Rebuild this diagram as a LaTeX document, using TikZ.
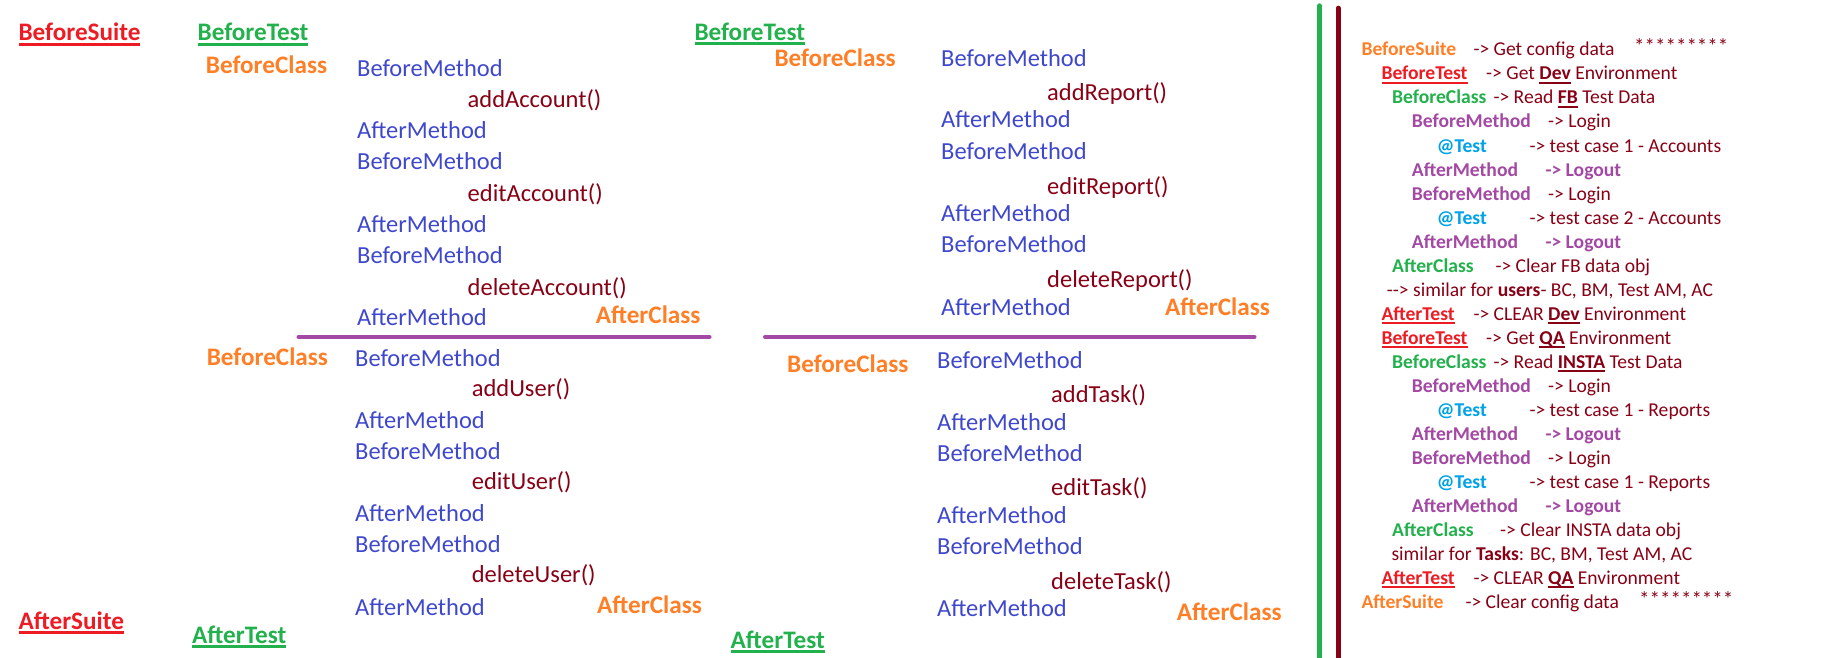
\documentclass[tikz,border=0pt]{standalone}
\usepackage{fontspec}
\setmainfont{Carlito}
\definecolor{cred}{HTML}{ED1C24}
\definecolor{cgreen}{HTML}{22B14C}
\definecolor{corange}{HTML}{FF7F27}
\definecolor{cblue}{HTML}{3F48CC}
\definecolor{cdred}{HTML}{880015}
\definecolor{cpurp}{HTML}{A349A4}
\definecolor{ccyan}{HTML}{00A2E8}
\newcommand\ulbig[1]{\setbox0\hbox{#1}\rlap{\rule[-5pt]{\wd0}{3pt}}\box0}
\newcommand\ulsm[1]{\setbox0\hbox{#1}\rlap{\rule[-3.6pt]{\wd0}{2pt}}\box0}
\tikzset{
  lt/.style={anchor=base west, inner sep=0pt, font=\fontsize{24.5}{28}\selectfont},
  lb/.style={anchor=base west, inner sep=0pt, font=\fontsize{25.2}{28}\selectfont\bfseries},
  bmeth/.style={lt, text=cblue},
  call/.style={lt, text=cdred},
  clab/.style={lb, text=corange},
  rt/.style={anchor=base west, inner sep=0pt, font=\fontsize{19.6}{22}\selectfont, text=cdred},
  rb/.style={anchor=base west, inner sep=0pt, font=\fontsize{19.6}{22}\selectfont\bfseries},
  stars/.style={anchor=base west, inner sep=0pt, font=\fontsize{21}{22}\selectfont, text=cdred},
  sepline/.style={draw=cpurp, line width=4pt, line cap=round},
  vline/.style={line width=5pt, line cap=round},
}
\begin{document}
\begin{tikzpicture}[x=1pt,y=-1pt]
\useasboundingbox (0,0) rectangle (1833,658);
\fill[white] (0,0) rectangle (1833,658);
% ---------- left column 1 ----------
\node[lb, text=cred] (bsuite) at (18.4,40.9) {\ulbig{BeforeSuite}};
\node[lb, text=cred] (asuite) at (18.4,629.3) {\ulbig{AfterSuite}};
\node[lb, text=cgreen] (btest1) at (197.5,41) {\ulbig{BeforeTest}};
\node[lb, text=cgreen] (atest1) at (192,643.3) {\ulbig{AfterTest}};
\node[clab] (bc11) at (205.7,73.8) {BeforeClass};
\node[bmeth] (m111) at (357,76.5) {BeforeMethod};
\node[call] (c111) at (467.5,108) {addAccount()};
\node[bmeth] (m112) at (357,138.8) {AfterMethod};
\node[bmeth] (m113) at (357,169.7) {BeforeMethod};
\node[call] (c112) at (467.5,201) {editAccount()};
\node[bmeth] (m114) at (357,232) {AfterMethod};
\node[bmeth] (m115) at (357,263) {BeforeMethod};
\node[call] (c113) at (467.5,295) {deleteAccount()};
\node[bmeth] (m116) at (357,325) {AfterMethod};
\node[clab] (ac11) at (595.6,323.6) {AfterClass};
\coordinate (s1a) at (298.5,337);
\coordinate (s1b) at (709.5,337);
\draw[sepline] (s1a) -- (s1b);
\node[clab] (bc12) at (206.6,365) {BeforeClass};
\node[bmeth] (m121) at (355,366.7) {BeforeMethod};
\node[call] (c121) at (471.6,396) {addUser()};
\node[bmeth] (m122) at (355,428.7) {AfterMethod};
\node[bmeth] (m123) at (355,459.3) {BeforeMethod};
\node[call] (c122) at (471.6,489.3) {editUser()};
\node[bmeth] (m124) at (355,521.7) {AfterMethod};
\node[bmeth] (m125) at (355,552.7) {BeforeMethod};
\node[call] (c123) at (471.6,582.3) {deleteUser()};
\node[bmeth] (m126) at (355,615) {AfterMethod};
\node[clab] (ac12) at (597,613.3) {AfterClass};
% ---------- left column 2 ----------
\node[lb, text=cgreen] (btest2) at (694.3,40.2) {\ulbig{BeforeTest}};
\node[lb, text=cgreen] (atest2) at (730.5,648.3) {\ulbig{AfterTest}};
\node[clab] (bc21) at (774.3,66.4) {BeforeClass};
\node[bmeth] (m211) at (941,66.4) {BeforeMethod};
\node[call] (c211) at (1047,100.6) {addReport()};
\node[bmeth] (m212) at (941,128) {AfterMethod};
\node[bmeth] (m213) at (941,159) {BeforeMethod};
\node[call] (c212) at (1047,194.5) {editReport()};
\node[bmeth] (m214) at (941,221.3) {AfterMethod};
\node[bmeth] (m215) at (941,252) {BeforeMethod};
\node[call] (c213) at (1047,287.7) {deleteReport()};
\node[bmeth] (m216) at (941,315.2) {AfterMethod};
\node[clab] (ac21) at (1165,315.9) {AfterClass};
\coordinate (s2a) at (765,337);
\coordinate (s2b) at (1254.5,337);
\draw[sepline] (s2a) -- (s2b);
\node[clab] (bc22) at (787,372.7) {BeforeClass};
\node[bmeth] (m221) at (937,368.3) {BeforeMethod};
\node[call] (c221) at (1051,402.7) {addTask()};
\node[bmeth] (m222) at (937,430) {AfterMethod};
\node[bmeth] (m223) at (937,461.7) {BeforeMethod};
\node[call] (c222) at (1051,495.7) {editTask()};
\node[bmeth] (m224) at (937,523.3) {AfterMethod};
\node[bmeth] (m225) at (937,554.3) {BeforeMethod};
\node[call] (c223) at (1051,589.3) {deleteTask()};
\node[bmeth] (m226) at (937,616) {AfterMethod};
\node[clab] (ac22) at (1176.7,620) {AfterClass};
% ---------- vertical rules ----------
\coordinate (g1) at (1319.5,5.8);
\coordinate (g2) at (1319.5,670);
\coordinate (r1) at (1338.3,8);
\coordinate (r2) at (1338.3,670);
\draw[vline, draw=cgreen] (g1) -- (g2);
\draw[vline, line width=4.7pt, draw=cdred] (r1) -- (r2);
% ---------- right panel ----------
\node[rb, text=corange] (l1) at (1361.3,56) {BeforeSuite};
\node[rt] (d1) at (1473.3,56) {-> Get config data};
\node[stars] (st1) at (1634,54) {*********};
\node[rb, text=cred] (l2) at (1381.3,80) {\ulsm{BeforeTest}};
\node[rt] (d2) at (1486,80) {-> Get \textbf{\ulsm{Dev}} Environment};
\node[rb, text=cgreen] (l3) at (1392,104) {BeforeClass};
\node[rt] (d3) at (1493.3,104) {-> Read \textbf{\ulsm{FB}} Test Data};
\node[rb, text=cpurp] (l4) at (1411.7,128) {BeforeMethod};
\node[rt] (d4) at (1548,128) {-> Login};
\node[rb, text=ccyan] (l5) at (1436.7,152) {@Test};
\node[rt] (d5) at (1529.3,152) {-> test case 1 - Accounts};
\node[rb, text=cpurp] (l6) at (1411.7,176) {AfterMethod};
\node[rb, text=cpurp] (d6) at (1545.3,176) {-> Logout};
\node[rb, text=cpurp] (l7) at (1411.7,200) {BeforeMethod};
\node[rt] (d7) at (1548,200) {-> Login};
\node[rb, text=ccyan] (l8) at (1436.7,224) {@Test};
\node[rt] (d8) at (1529.3,224) {-> test case 2 - Accounts};
\node[rb, text=cpurp] (l9) at (1411.7,248) {AfterMethod};
\node[rb, text=cpurp] (d9) at (1545.3,248) {-> Logout};
\node[rb, text=cgreen] (l10) at (1392,272) {AfterClass};
\node[rt] (d10) at (1495.3,272) {-> Clear FB data obj};
\node[rt] (d11) at (1386.7,296) {-{}-> similar for \textbf{users}- BC, BM, Test AM, AC};
\node[rb, text=cred] (l12) at (1381.3,320) {\ulsm{AfterTest}};
\node[rt] (d12) at (1473.3,320) {-> CLEAR \textbf{\ulsm{Dev}} Environment};
\node[rb, text=cred] (l13) at (1381.3,344) {\ulsm{BeforeTest}};
\node[rt] (d13) at (1486,344) {-> Get \textbf{\ulsm{QA}} Environment};
\node[rb, text=cgreen] (l14) at (1392,368) {BeforeClass};
\node[rt] (d14) at (1493.3,368) {-> Read \textbf{\ulsm{INSTA}} Test Data};
\node[rb, text=cpurp] (l15) at (1411.7,392) {BeforeMethod};
\node[rt] (d15) at (1548,392) {-> Login};
\node[rb, text=ccyan] (l16) at (1436.7,416) {@Test};
\node[rt] (d16) at (1529.3,416) {-> test case 1 - Reports};
\node[rb, text=cpurp] (l17) at (1411.7,440) {AfterMethod};
\node[rb, text=cpurp] (d17) at (1545.3,440) {-> Logout};
\node[rb, text=cpurp] (l18) at (1411.7,464) {BeforeMethod};
\node[rt] (d18) at (1548,464) {-> Login};
\node[rb, text=ccyan] (l19) at (1436.7,488) {@Test};
\node[rt] (d19) at (1529.3,488) {-> test case 1 - Reports};
\node[rb, text=cpurp] (l20) at (1411.7,512) {AfterMethod};
\node[rb, text=cpurp] (d20) at (1545.3,512) {-> Logout};
\node[rb, text=cgreen] (l21) at (1392,536) {AfterClass};
\node[rt] (d21) at (1500,536) {-> Clear INSTA data obj};
\node[rt] (d22) at (1391.3,560) {similar for \textbf{Tasks}: BC, BM, Test AM, AC};
\node[rb, text=cred] (l23) at (1381.3,584) {\ulsm{AfterTest}};
\node[rt] (d23) at (1473.3,584) {-> CLEAR \textbf{\ulsm{QA}} Environment};
\node[rb, text=corange] (l24) at (1361.3,608) {AfterSuite};
\node[rt] (d24) at (1465.3,608) {-> Clear config data};
\node[stars] (st24) at (1639,606) {*********};
\end{tikzpicture}
\end{document}
